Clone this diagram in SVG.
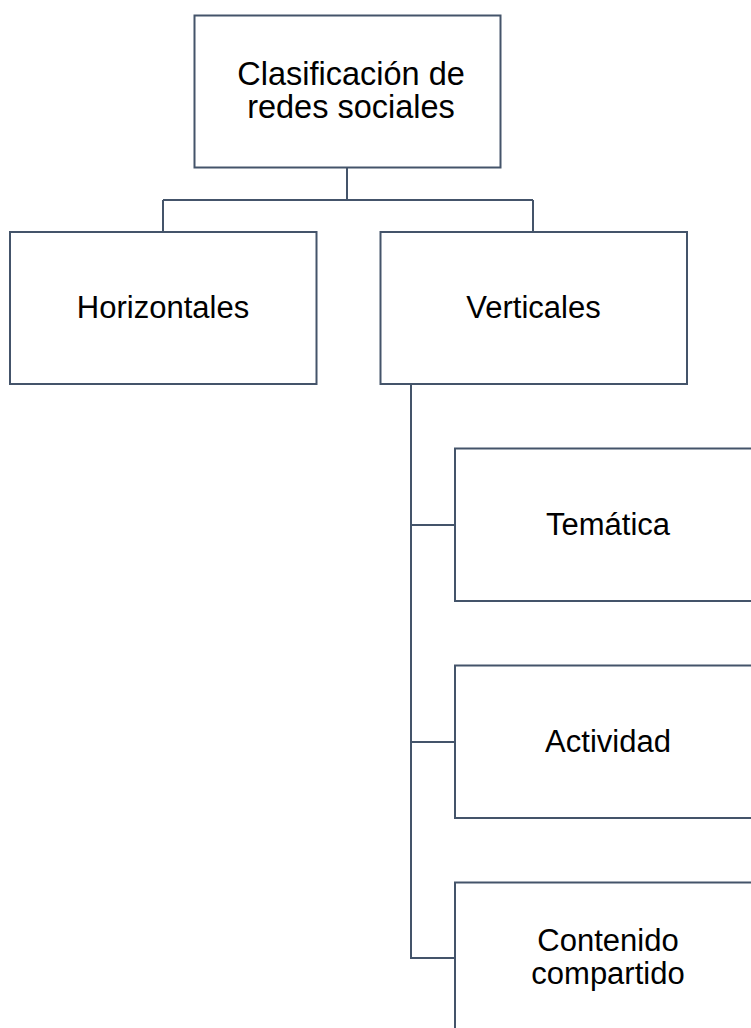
<svg xmlns="http://www.w3.org/2000/svg" width="751" height="1028" viewBox="0 0 751 1028">
<style>
.box{fill:#ffffff;stroke:#44546a;stroke-width:2}
.conn{fill:none;stroke:#44546a;stroke-width:2}
.lbl{font-family:"Liberation Sans",Arial,sans-serif;font-size:31px;fill:#000000;text-anchor:middle}
.root{font-size:32.5px}
</style>
<rect width="751" height="1028" fill="#ffffff"/>
<g id="connectors">
<path class="conn" d="M347,167.5 V200 M163,200 H533 M163,200 V232 M533,200 V232"/>
<path class="conn" d="M411,383.5 V958 H455 M411,525 H455 M411,742 H455"/>
</g>
<g id="root">
<rect class="box" x="194.5" y="15.5" width="306" height="152"/>
<text class="lbl root" x="351" y="85">Clasificación de</text>
<text class="lbl root" x="351" y="118">redes sociales</text>
</g>
<g id="horizontales">
<rect class="box" x="10" y="232" width="306.5" height="152"/>
<text class="lbl" x="163" y="318">Horizontales</text>
</g>
<g id="verticales">
<rect class="box" x="380.5" y="232" width="306.5" height="152"/>
<text class="lbl" x="533.5" y="318">Verticales</text>
</g>
<g id="tematica">
<rect class="box" x="455" y="448.5" width="307" height="152.5"/>
<text class="lbl" x="608" y="535">Temática</text>
</g>
<g id="actividad">
<rect class="box" x="455" y="665.5" width="307" height="152.5"/>
<text class="lbl" x="608" y="752">Actividad</text>
</g>
<g id="contenido">
<rect class="box" x="455" y="882.5" width="307" height="152.5"/>
<text class="lbl" x="608" y="951">Contenido</text>
<text class="lbl" x="608" y="984">compartido</text>
</g>
</svg>
